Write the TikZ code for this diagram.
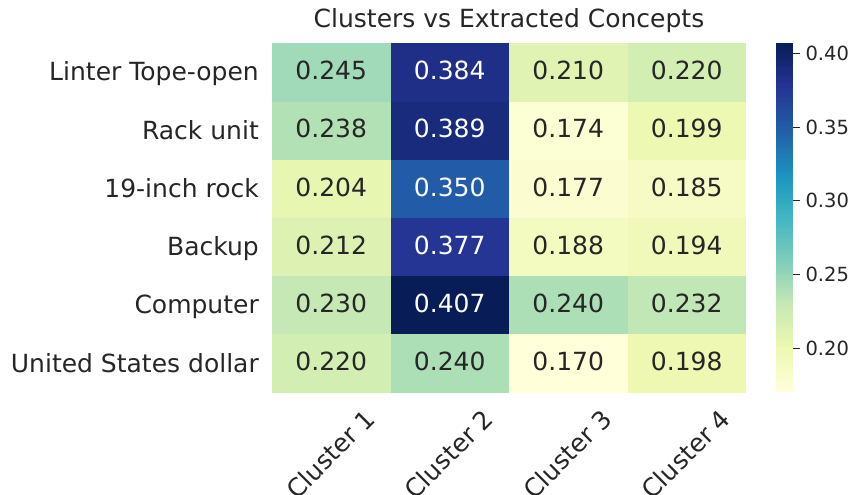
\documentclass[tikz,border=0pt]{standalone}
\usepackage{fontspec}
\setmainfont{DejaVu Sans}

% YlGnBu colour stops
\definecolor{ylg0}{RGB}{255,255,217}
\definecolor{ylg1}{RGB}{237,248,177}
\definecolor{ylg2}{RGB}{199,233,180}
\definecolor{ylg3}{RGB}{127,205,187}
\definecolor{ylg4}{RGB}{65,182,196}
\definecolor{ylg5}{RGB}{29,145,192}
\definecolor{ylg6}{RGB}{34,94,168}
\definecolor{ylg7}{RGB}{37,52,148}
\definecolor{ylg8}{RGB}{8,29,88}
\definecolor{ink}{RGB}{38,38,38}

% colour of the map at position #1 in [0,1], stored as cmapcol
\newcommand\setcmap[1]{%
  \pgfmathsetmacro\cmS{max(0,min(1,#1))*8}%
  \pgfmathtruncatemacro\cmK{min(7,floor(\cmS))}%
  \pgfmathtruncatemacro\cmKn{\cmK+1}%
  \pgfmathsetmacro\cmF{(\cmS-\cmK)*100}%
  \colorlet{cmapcol}{ylg\cmKn!\cmF!ylg\cmK}%
}

\def\vmin{0.170}
\def\vmax{0.407}

\begin{document}
\begin{tikzpicture}[x=1pt,y=-1pt,
  bigfont/.style={font=\fontsize{25}{30}\selectfont},
  cellnum/.style={bigfont, anchor=base, inner sep=0pt},
  rowlabel/.style={bigfont, anchor=base east, inner sep=0pt, text=ink},
  collabel/.style={bigfont, anchor=center, rotate=45, inner sep=0pt, text=ink},
  plottitle/.style={font=\fontsize{25}{30}\selectfont, anchor=base, inner sep=0pt, text=ink},
  cbtick/.style={draw=ink, line width=1.1pt},
  cblabel/.style={font=\fontsize{19.5}{23}\selectfont, anchor=base west, inner sep=0pt, text=ink}]
\useasboundingbox (0,0) rectangle (855,495);

\def\Xo{272}\def\Yo{43.3}\def\CW{118.5}\def\CH{58.23}

% title
\node[plottitle] (title) at (509,28) {Clusters vs Extracted Concepts};

% heatmap cells
\foreach \rowv [count=\i] in {{0.245,0.384,0.210,0.220},
                              {0.238,0.389,0.174,0.199},
                              {0.204,0.350,0.177,0.185},
                              {0.212,0.377,0.188,0.194},
                              {0.230,0.407,0.240,0.232},
                              {0.220,0.240,0.170,0.198}}{
  \foreach \v [count=\j] in \rowv {
    \setcmap{(\v-\vmin)/(\vmax-\vmin)}
    \pgfmathsetmacro\xa{\Xo+\CW*(\j-1)}
    \pgfmathsetmacro\ya{\Yo+\CH*(\i-1)}
    \pgfmathsetmacro\xb{\xa+\CW+(\j<4?0.5:0)}
    \pgfmathsetmacro\yb{\ya+\CH+(\i<6?0.5:0)}
    \fill[cmapcol] (\xa,\ya) rectangle (\xb,\yb);
    \pgfmathsetmacro\tc{\v>0.3?1:0}
    \ifdim\tc pt>0.5pt \def\txtcol{white}\else\def\txtcol{ink}\fi
    \node[cellnum, text=\txtcol] (cell-\i-\j) at ({\xa+\CW/2},{\ya+\CH/2+7.3}) {\v};
  }
}

% row labels
\foreach \lab [count=\i] in {Linter Tope-open, Rack unit, 19-inch rock,
                             Backup, Computer, United States dollar}{
  \node[rowlabel] (row-\i) at (259,{\Yo+\CH*(\i-0.5)+8.5}) {\lab};
}

% column labels
\foreach \j in {1,...,4}{
  \node[collabel] (col-\j) at ({\Xo+\CW*(\j-0.5)-1},454) {Cluster \j};
}

% colour bar
\def\cbL{775.7}\def\cbR{793.3}\def\cbT{43.3}\def\cbB{392.3}
\foreach \n in {0,...,139}{
  \setcmap{(\n+0.5)/140}
  \pgfmathsetmacro\ya{\cbB-(\cbB-\cbT)*(\n/140)}
  \pgfmathsetmacro\yb{\cbB-(\cbB-\cbT)*((\n+1)/140)-(\n<139?0.4:0)}
  \fill[cmapcol] (\cbL,\ya) rectangle (\cbR,\yb);
}
\foreach \t [count=\k] in {0.20,0.25,0.30,0.35,0.40}{
  \pgfmathsetmacro\ty{\cbB-(\t-\vmin)/(\vmax-\vmin)*(\cbB-\cbT)}
  \coordinate (tk\k) at (\cbR,\ty);
  \draw[cbtick] (tk\k) -- ++(7,0);
  \node[cblabel] (tl\k) at ([shift={(12,7.1)}]tk\k) {\t};
}
\end{tikzpicture}
\end{document}
